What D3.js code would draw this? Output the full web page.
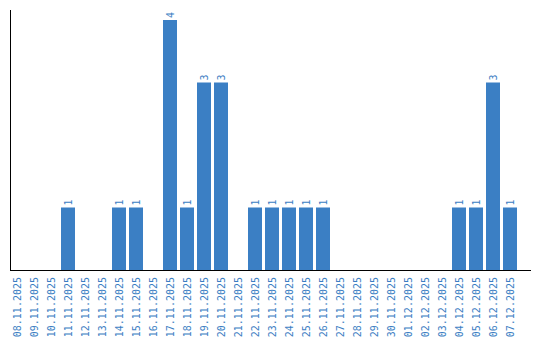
<!DOCTYPE html>
<html>
<head>
<meta charset="utf-8">
<script src="https://cdn.jsdelivr.net/npm/d3@7"></script>
<style>
  body { margin: 0; background: #fff; }
  text { font-family: "DejaVu Sans Mono", monospace; font-size: 10px; fill: #3b7ec3; }
</style>
</head>
<body>
<div id="graphDiv"></div>
<script>
var dates = ["08.11.2025","09.11.2025","10.11.2025","11.11.2025","12.11.2025","13.11.2025",
             "14.11.2025","15.11.2025","16.11.2025","17.11.2025","18.11.2025","19.11.2025",
             "20.11.2025","21.11.2025","22.11.2025","23.11.2025","24.11.2025","25.11.2025",
             "26.11.2025","27.11.2025","28.11.2025","29.11.2025","30.11.2025","01.12.2025",
             "02.12.2025","03.12.2025","04.12.2025","05.12.2025","06.12.2025","07.12.2025"],
    counts = [0,0,0,1,0,0, 1,1,0,4,1,3, 3,0,1,1,1,1, 1,0,0,0,0,0, 0,0,1,1,3,1];

var width = 540, height = 340;

var svg = d3.select('#graphDiv').append('svg')
    .attr('width', width)
    .attr('height', height);

var x = d3.scaleBand()
    .domain(dates)
    .range([10, 517])
    .paddingInner(3 / 17)
    .paddingOuter(0);

var y = d3.scaleLinear()
    .domain([0, 4])
    .range([270, 20]);

// bars
svg.selectAll('rect.bar')
    .data(counts)
    .enter().append('rect')
    .attr('class', 'bar')
    .attr('x', function(d, i) { return x(dates[i]); })
    .attr('width', x.bandwidth())
    .attr('y', function(d) { return y(d); })
    .attr('height', function(d) { return y(0) - y(d); })
    .style('fill', '#3b7fc4');

// value labels, rotated, only for non-zero days
counts.forEach(function(d, i) {
    if (d <= 0) return;
    svg.append('text')
        .attr('transform', 'translate(' + (x(dates[i]) + x.bandwidth() / 2 + 3.5) + ',' + (y(d) - 2) + ') rotate(-90)')
        .attr('text-anchor', 'start')
        .text(d);
});

// x axis labels
var xAxis = svg.append('g')
    .attr('transform', 'translate(0,270)')
    .call(d3.axisBottom(x).tickSize(0).tickPadding(0));
xAxis.select('.domain').remove();
xAxis.selectAll('text')
    .attr('transform', 'rotate(-90)')
    .attr('text-anchor', 'end')
    .attr('x', -7)
    .attr('y', 0)
    .attr('dy', '0.35em')
    .style('font-family', '"DejaVu Sans Mono", monospace')
    .style('font-size', '10px')
    .style('fill', '#3b7ec3');

// axis lines
svg.append('line')
    .attr('x1', 10.5).attr('x2', 10.5)
    .attr('y1', 10).attr('y2', 270)
    .style('stroke', '#000');
svg.append('line')
    .attr('x1', 10).attr('x2', 531)
    .attr('y1', 270.5).attr('y2', 270.5)
    .style('stroke', '#000');
</script>
</body>
</html>
